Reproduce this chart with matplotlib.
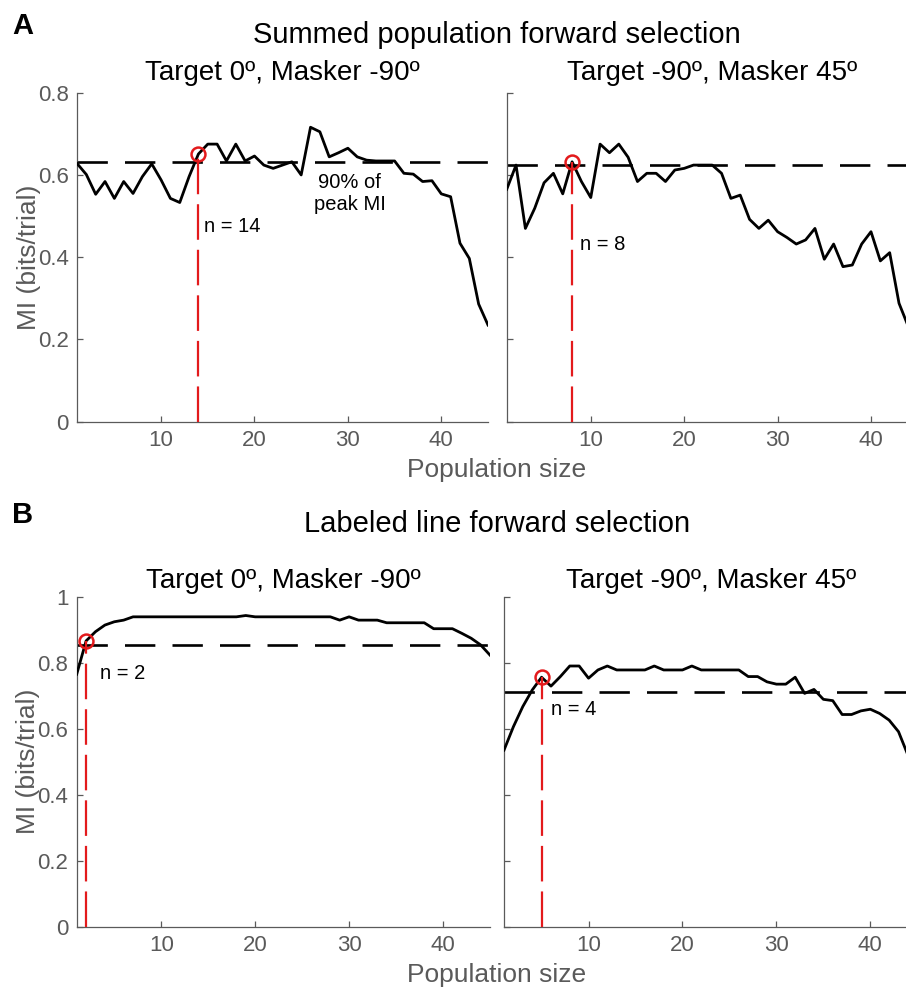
import numpy as np
import matplotlib
matplotlib.use('Agg')
from matplotlib import pyplot as plt

plt.rcParams['font.family'] = ['Liberation Sans', 'DejaVu Sans']

# population sizes 1..45
pop_size = np.arange(1, 46)

# A: summed population forward selection
summed_t0_m90 = [0.628, 0.601, 0.553, 0.584, 0.543, 0.584, 0.555, 0.596, 0.627, 0.588,
                 0.543, 0.533, 0.596, 0.651, 0.675, 0.675, 0.634, 0.675, 0.634, 0.646,
                 0.624, 0.616, 0.624, 0.632, 0.600, 0.716, 0.705, 0.644, 0.654, 0.665,
                 0.644, 0.636, 0.634, 0.634, 0.634, 0.604, 0.602, 0.584, 0.586, 0.554,
                 0.547, 0.434, 0.397, 0.286, 0.235]
summed_t90_m45 = [0.565, 0.624, 0.470, 0.519, 0.581, 0.604, 0.554, 0.632, 0.584, 0.545,
                  0.675, 0.654, 0.675, 0.643, 0.584, 0.604, 0.604, 0.584, 0.612, 0.616,
                  0.624, 0.624, 0.624, 0.604, 0.543, 0.551, 0.492, 0.470, 0.490, 0.462,
                  0.448, 0.432, 0.442, 0.470, 0.395, 0.432, 0.377, 0.381, 0.432, 0.462,
                  0.391, 0.411, 0.288, 0.231, 0.170]

# B: labeled line forward selection
labeled_t0_m90 = [0.765, 0.866, 0.894, 0.914, 0.924, 0.929, 0.939, 0.939, 0.939, 0.939,
                  0.939, 0.939, 0.939, 0.939, 0.939, 0.939, 0.939, 0.939, 0.943, 0.939,
                  0.939, 0.939, 0.939, 0.939, 0.939, 0.939, 0.939, 0.939, 0.929, 0.939,
                  0.929, 0.929, 0.929, 0.921, 0.921, 0.921, 0.921, 0.921, 0.903, 0.903,
                  0.903, 0.889, 0.874, 0.854, 0.823]
labeled_t90_m45 = [0.535, 0.606, 0.667, 0.717, 0.756, 0.729, 0.758, 0.790, 0.790, 0.753,
                   0.778, 0.790, 0.778, 0.778, 0.778, 0.778, 0.790, 0.778, 0.778, 0.778,
                   0.790, 0.778, 0.778, 0.778, 0.778, 0.778, 0.758, 0.758, 0.742, 0.735,
                   0.735, 0.756, 0.707, 0.719, 0.689, 0.685, 0.643, 0.643, 0.654, 0.659,
                   0.646, 0.626, 0.591, 0.520, 0.450]

thresholds = [0.631, 0.624, 0.854, 0.711]
chosen_n = [14, 8, 2, 5]
chosen_labels = ['n = 14', 'n = 8', 'n = 2', 'n = 4']
label_pos = [(14.6, 0.474), (8.9, 0.43), (3.5, 0.768), (6.0, 0.657)]

titles = ['Target 0º, Masker -90º', 'Target -90º, Masker 45º',
          'Target 0º, Masker -90º', 'Target -90º, Masker 45º']
series = [summed_t0_m90, summed_t90_m45, labeled_t0_m90, labeled_t90_m45]

W, H = 906, 991
fig = plt.figure(figsize=(W / 100, H / 100), dpi=100)

# axes boxes in pixels: left, top, right, bottom
boxes = [(77, 92.7, 488, 421.7), (506.7, 92.7, 917.7, 421.7),
         (76.7, 596.7, 490, 926.7), (504, 596.7, 917.3, 926.7)]

axis_grey = '#5a5a5a'
red = '#e31a1c'

for i, (l, t, r, b) in enumerate(boxes):
    ax = fig.add_axes([l / W, 1 - b / H, (r - l) / W, (b - t) / H])
    y = series[i]
    ax.plot(pop_size, y, color='black', lw=2.0, zorder=3)
    ax.axhline(thresholds[i], color='black', lw=1.9, dashes=(11.5, 6.5), zorder=2)
    n = chosen_n[i]
    peak = y[n - 1]
    ax.plot([n, n], [0, peak], color=red, lw=1.6, dashes=(16, 4.5), zorder=4)
    ax.plot(n, peak, 'o', mfc='none', mec=red, ms=10, mew=1.8, zorder=5)
    ax.text(label_pos[i][0], label_pos[i][1], chosen_labels[i],
            ha='left', va='center', fontsize=14.5)

    ax.set_xlim(1, 45)
    ax.set_xticks([10, 20, 30, 40])
    if i < 2:
        ax.set_ylim(0, 0.8)
        ax.set_yticks([0, 0.2, 0.4, 0.6, 0.8])
        ax.set_yticklabels(['0', '0.2', '0.4', '0.6', '0.8'])
        pad = 9.5
    else:
        ax.set_ylim(0, 1)
        ax.set_yticks([0, 0.2, 0.4, 0.6, 0.8, 1])
        ax.set_yticklabels(['0', '0.2', '0.4', '0.6', '0.8', '1'])
        pad = 6.5
    if i % 2 == 1:
        ax.set_yticklabels([])
    else:
        ax.set_ylabel('MI (bits/trial)', fontsize=19, color=axis_grey, labelpad=-2)

    ax.set_title(titles[i], fontsize=20, pad=pad)
    for side in ['top', 'right']:
        ax.spines[side].set_visible(False)
    for side in ['left', 'bottom']:
        ax.spines[side].set_color(axis_grey)
        ax.spines[side].set_linewidth(0.9)
    ax.tick_params(direction='in', length=4, width=0.9, colors=axis_grey,
                   labelsize=16, pad=6)
    ax.set_facecolor('none')

    if i == 0:
        ax.text(30.2, 0.554, '90% of\npeak MI', ha='center', va='center',
                fontsize=14.5)

fig.text(497 / W, 1 - 43 / H, 'Summed population forward selection',
         ha='center', va='baseline', fontsize=21)
fig.text(497 / W, 1 - 532 / H, 'Labeled line forward selection',
         ha='center', va='baseline', fontsize=21)
fig.text(497 / W, 1 - 470 / H, 'Population size', ha='center', va='center',
         fontsize=19, color=axis_grey)
fig.text(497 / W, 1 - 975 / H, 'Population size', ha='center', va='center',
         fontsize=19, color=axis_grey)
fig.text(12 / W, 1 - 34 / H, 'A', ha='left', va='baseline', fontsize=21,
         fontweight='bold')
fig.text(12 / W, 1 - 523 / H, 'B', ha='left', va='baseline', fontsize=21,
         fontweight='bold')

fig.savefig('out.png', dpi=100)
